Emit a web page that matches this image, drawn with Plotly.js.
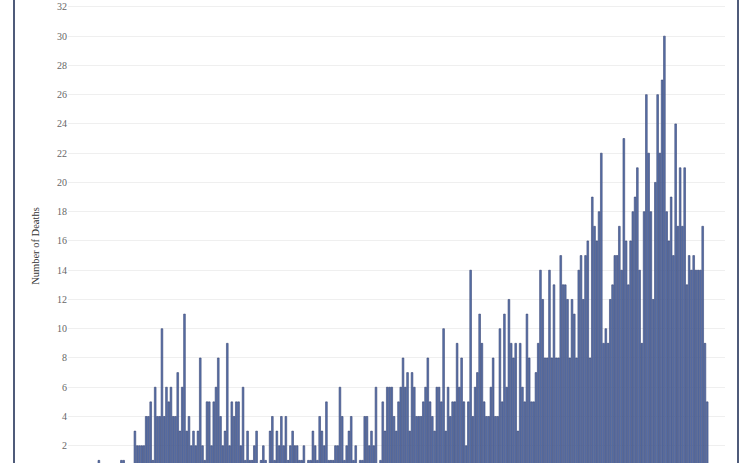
<!DOCTYPE html>
<html>
<head>
<meta charset="utf-8">
<script src="https://cdn.plot.ly/plotly-3.0.1.min.js"></script>
<style>
  body { margin: 0; background: #fff; overflow: hidden; }
  #wrap { position: relative; width: 750px; height: 463px; }
  #plot { position: absolute; left: 0; top: 0; width: 750px; height: 463px; }
  #frame {
    position: absolute; left: 13px; top: -4px; width: 722px; height: 475px;
    border: 2px solid #4f5b7a; pointer-events: none;
  }
</style>
</head>
<body>
<div id="wrap">
  <div id="plot"></div>
  <div id="frame"></div>
</div>
<script>
// daily deaths (left to right)
let earlyDeaths = [0, 0, 0, 0, 0, 0, 0, 0, 0, 0, 0, 0, 1, 0, 0, 0, 0, 0, 0, 0, 0, 0, 1, 1, 0, 0, 0, 0];
let wave1Deaths = [3, 2, 2, 2, 2, 4, 4, 5, 1, 6, 4, 4, 10, 4, 6, 5, 6, 4, 4, 7, 3, 6, 11,
  3, 4, 2, 3, 2, 3, 8, 2, 1, 5, 5, 2, 5, 6, 8, 4, 2, 3, 9, 2, 5, 4, 5, 5, 2, 6, 1, 3, 1, 1, 2, 3];
let summerDeaths = [0, 1, 2, 1, 0, 3, 4, 1, 3, 2, 4, 2, 4, 1, 2, 3, 2, 2, 1, 1, 2, 0, 1, 1, 3, 2, 1, 4, 3, 2, 5, 1, 1, 1, 2, 2, 6,
  4, 1, 2, 3, 4, 1, 2, 0, 1, 1, 4, 4, 2, 3, 2, 6, 0, 1, 5, 3, 6, 6, 6, 4, 3, 5, 6, 8, 6, 7, 3, 7, 6, 4, 4, 4];
let autumnDeaths = [5, 6, 8, 5, 4, 3, 6, 6, 5, 10, 3, 6, 4, 5, 5, 9, 6, 8, 5, 2, 5, 14, 4, 6, 7, 11, 9, 5, 4, 4, 6, 8, 4, 4, 10, 5, 11, 6, 12, 9, 8,
  9, 3, 9, 6, 5, 11, 8, 5, 5, 7, 9, 14, 12, 8, 8, 14, 8, 13, 8, 8, 15, 13, 13, 12, 8, 12, 11, 8, 14, 15, 12, 15, 16, 8, 19, 17, 16, 18, 22, 9, 10, 9];
let winterDeaths = [12, 13, 15, 15, 17, 14, 23, 16, 13, 16, 18, 19, 21, 14, 9, 18, 26, 22, 18, 12, 20, 26, 22, 27, 30,
  18, 16, 19, 15, 24, 17, 21, 17, 21, 13, 15, 14, 15, 14, 14, 14, 17, 9, 5];

let deaths = earlyDeaths.concat(wave1Deaths, summerDeaths, autumnDeaths, winterDeaths);
let yTicks = [2, 4, 6, 8, 10, 12, 14, 16, 18, 20, 22, 24, 26, 28, 30, 32];
let yTitle = 'Number of Deaths';

let trace = {
  type: 'bar',
  y: deaths,
  marker: {
    color: '#5b73ab',
    line: { color: '#374573', width: 0.6 }
  },
  hoverinfo: 'none'
};

let layout = {
  width: 750,
  height: 463,
  margin: { l: 68, r: 25, t: 0, b: 0 },
  paper_bgcolor: '#ffffff',
  plot_bgcolor: '#ffffff',
  bargap: 0.24,
  showlegend: false,
  xaxis: {
    range: [-1.7, 289.9],
    showgrid: false,
    zeroline: false,
    showline: false,
    showticklabels: false,
    ticks: ''
  },
  yaxis: {
    range: [0.82, 32.47],
    tickvals: yTicks,
    ticktext: yTicks.map(String),
    showgrid: true,
    gridcolor: '#efefef',
    gridwidth: 1,
    zeroline: false,
    showline: false,
    ticks: '',
    automargin: false,
    tickfont: { family: 'Liberation Serif, serif', size: 10, color: '#666666' }
  },
  // axis title sits a bit below the middle in the original, so place it by hand
  annotations: [{
    text: yTitle,
    xref: 'paper', yref: 'paper',
    x: -0.061, y: 0.47,
    textangle: -90,
    showarrow: false,
    font: { family: 'Liberation Serif, serif', size: 10.5, color: '#333333' }
  }]
};

Plotly.newPlot('plot', [trace], layout, { staticPlot: true });
</script>
</body>
</html>
